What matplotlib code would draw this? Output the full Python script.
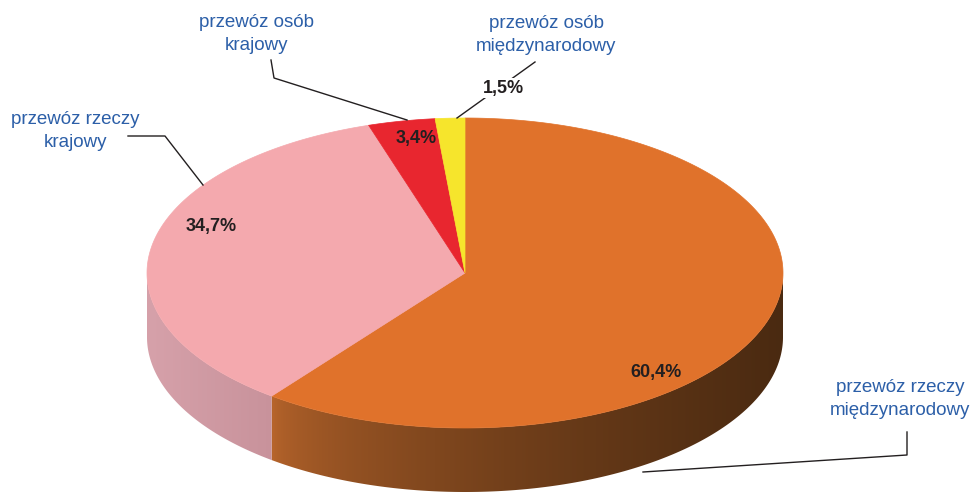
import numpy as np
import matplotlib.pyplot as plt
from matplotlib.patches import Polygon
from matplotlib.colors import to_rgb

plt.rcParams['font.family'] = ['Liberation Sans', 'DejaVu Sans']

# data (clockwise from 12 o'clock)
labels = ['przewóz rzeczy\nmiędzynarodowy', 'przewóz rzeczy\nkrajowy',
          'przewóz osób\nkrajowy', 'przewóz osób\nmiędzynarodowy']
shares = [60.4, 34.7, 3.4, 1.5]
pct_labels = ['60,4%', '34,7%', '3,4%', '1,5%']
top_colors = ['#E0722B', '#F4A9AE', '#E8262F', '#F6E52C']
side_light = ['#B6642B', '#D6A1AA', '#B81E25', '#C4B620']
side_dark = ['#4A2A11', '#C8929B', '#7A1418', '#8A7F15']

# ellipse geometry in pixels
cx, cy, a, b, depth = 465, 273, 318, 155, 64


def pt(theta, dz=0.0):
    return cx + a * np.cos(theta), cy - b * np.sin(theta) + dz


fig = plt.figure(figsize=(9.8, 4.93), dpi=100)
ax = fig.add_axes([0, 0, 1, 1])
ax.axis('off')

total = sum(shares)
cum = np.concatenate([[0], np.cumsum(shares)])
hi_angles = np.radians(90 - 360 * cum[:-1] / total)
lo_angles = np.radians(90 - 360 * cum[1:] / total)

# side walls (front half only), horizontal gradient clipped to the wall
xcols = np.linspace(cx - a, cx + a, 640)
tcol = (xcols - (cx - a)) / (2 * a)
for i in range(len(shares)):
    th = np.linspace(lo_angles[i], hi_angles[i], 600)
    th = th[np.sin(th) <= 0]
    if len(th) < 2:
        continue
    xt, yt = pt(th)
    verts = list(zip(xt, yt)) + list(zip(xt[::-1], yt[::-1] + depth))
    wall = Polygon(verts, closed=True, facecolor='none', edgecolor='none')
    ax.add_patch(wall)
    c1 = np.array(to_rgb(side_light[i]))
    c2 = np.array(to_rgb(side_dark[i]))
    if i == 0:
        f = np.clip((tcol - 0.2) / 0.8, 0, 1) ** 0.6
    else:
        f = np.clip(tcol / 0.2, 0, 1)
    img = c1[None, :] + (c2 - c1)[None, :] * f[:, None]
    im = ax.imshow(img[None, :, :], extent=(cx - a, cx + a, cy + b + depth + 2, cy - 2),
                   aspect='auto', interpolation='bilinear', zorder=1)
    im.set_clip_path(wall)

# top face
for i in range(len(shares)):
    th = np.linspace(hi_angles[i], lo_angles[i], 300)
    xs, ys = pt(th)
    verts = [(cx, cy)] + list(zip(xs, ys))
    ax.add_patch(Polygon(verts, closed=True, facecolor=top_colors[i],
                         edgecolor=top_colors[i], lw=0.5, zorder=2))

# percentage labels
pct_pos = [(656, 373), (211, 227), (416, 138), (503, 88)]
for txt, (x, y) in zip(pct_labels, pct_pos):
    bbox = dict(facecolor='white', edgecolor='none', pad=1) if txt == '1,5%' else None
    ax.text(x, y, txt, fontsize=13, fontweight='bold', color='#231F20',
            ha='center', va='center', bbox=bbox, zorder=5)

# category labels with leader lines
blue = '#2C5FA8'
name_pos = [(900, 399), (75, 131), (256, 34), (546, 35)]
for txt, (x, y) in zip(labels, name_pos):
    ax.text(x, y, txt, fontsize=13.5, color=blue, ha='center', va='center',
            linespacing=1.5)

leaders = [
    [(907, 432), (907, 455), (643, 472)],
    [(128, 136), (165, 136), (203, 185)],
    [(271, 60), (274, 78), (407, 120)],
    [(535, 62), (457, 118)],
]
for ln in leaders:
    xs, ys = zip(*ln)
    ax.plot(xs, ys, color='#231F20', lw=1.0, zorder=4)

ax.set_xlim(0, 980)
ax.set_ylim(493, 0)
fig.savefig('out.png', dpi=100)
